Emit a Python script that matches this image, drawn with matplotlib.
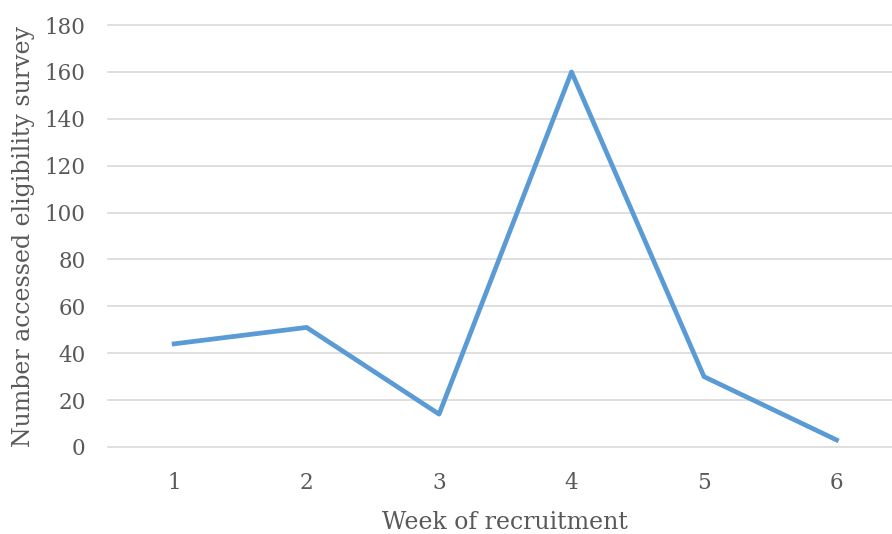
import matplotlib
matplotlib.use('Agg')
import matplotlib.pyplot as plt

# Weekly counts of people who opened the eligibility survey
weeks = ['1', '2', '3', '4', '5', '6']
accessed = [44, 51, 14, 160, 30, 3]
y_ticks = [0, 20, 40, 60, 80, 100, 120, 140, 160, 180]

plt.rcParams['font.family'] = ['DejaVu Serif']

fig = plt.figure(figsize=(8.92, 5.34), dpi=100)
ax = fig.add_axes([0.121, 0.163, 0.891, 0.790])

x = range(1, len(weeks) + 1)
ax.plot(x, accessed, color='#5B9BD5', linewidth=3.4, zorder=3)

ax.set_xlim(0.5, 6.5)
ax.set_ylim(0, 180)
ax.set_xticks(list(x))
ax.set_xticklabels(weeks)
ax.set_yticks(y_ticks)

ax.grid(axis='y', color='#D9D9D9', linewidth=1.2)
for gl in ax.get_ygridlines():
    gl.set_clip_on(False)
ax.set_axisbelow(True)
for side in ['top', 'right', 'left', 'bottom']:
    ax.spines[side].set_visible(False)
ax.tick_params(axis='both', length=0, labelsize=15.5, labelcolor='#595959')
ax.tick_params(axis='x', pad=18)
ax.tick_params(axis='y', pad=16)

ax.set_xlabel('Week of recruitment', fontsize=17, color='#595959', labelpad=12)
ax.set_ylabel('Number accessed eligibility survey', fontsize=17, color='#595959', labelpad=7)

fig.savefig('out.png', dpi=100)
